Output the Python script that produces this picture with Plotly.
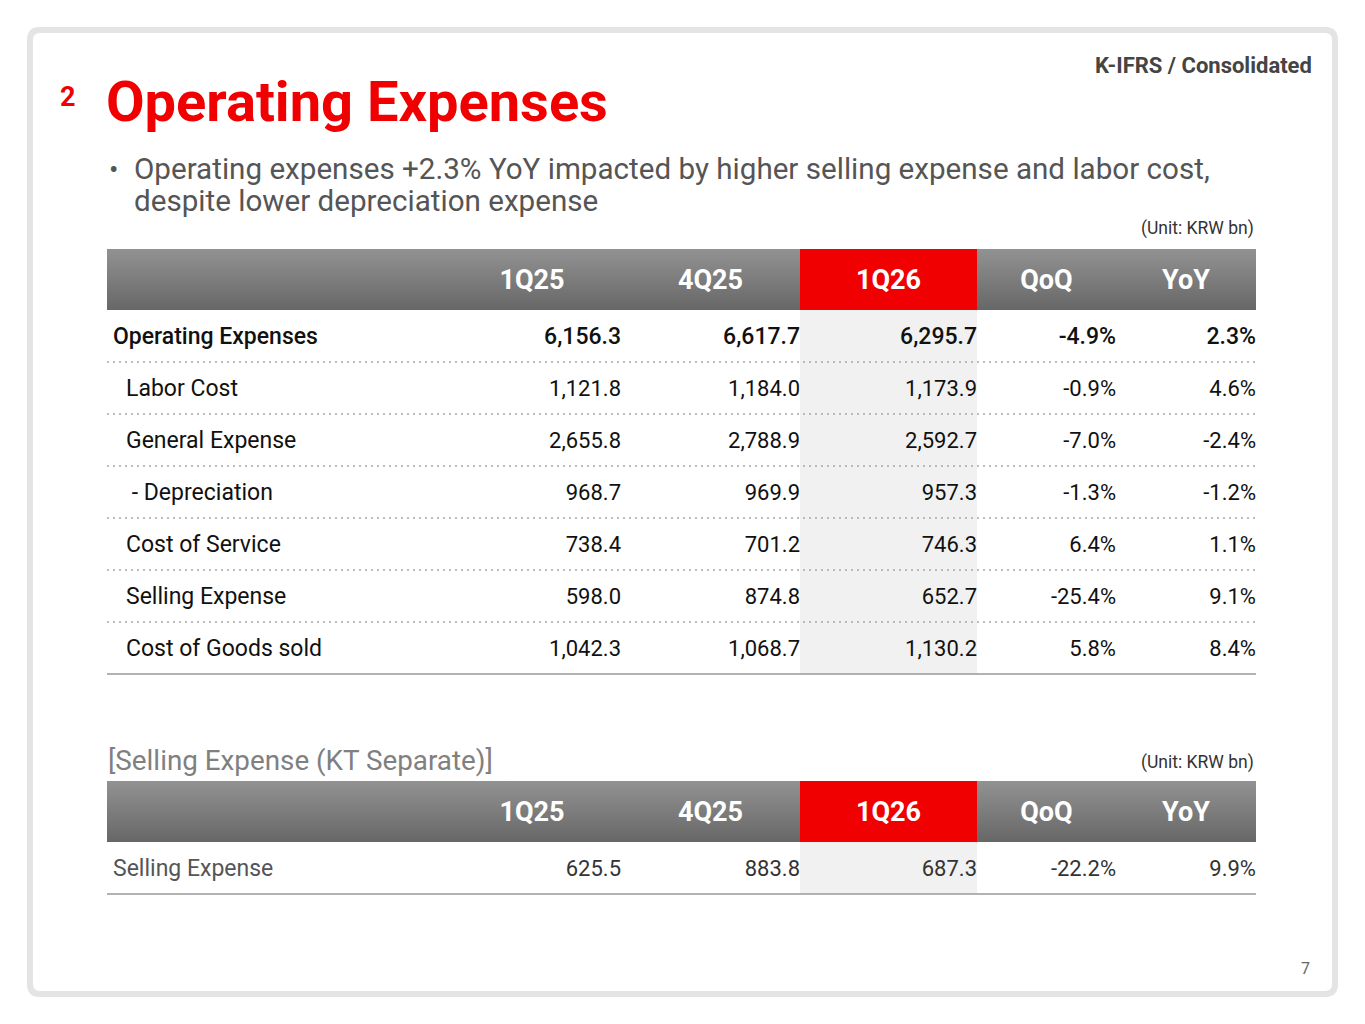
import plotly.graph_objects as go

# ---- data (KRW bn) ----
periods = ["1Q25", "4Q25", "1Q26", "QoQ", "YoY"]
items = ["Operating Expenses", "Labor Cost", "General Expense", "\u00a0- Depreciation",
         "Cost of Service", "Selling Expense", "Cost of Goods sold"]
val_1q25 = [6156.3, 1121.8, 2655.8, 968.7, 738.4, 598.0, 1042.3]
val_4q25 = [6617.7, 1184.0, 2788.9, 969.9, 701.2, 874.8, 1068.7]
val_1q26 = [6295.7, 1173.9, 2592.7, 957.3, 746.3, 652.7, 1130.2]
qoq_pct = [-4.9, -0.9, -7.0, -1.3, 6.4, -25.4, 5.8]
yoy_pct = [2.3, 4.6, -2.4, -1.2, 1.1, 9.1, 8.4]

sep_items = ["Selling Expense"]
sep_1q25 = [625.5]
sep_4q25 = [883.8]
sep_1q26 = [687.3]
sep_qoq = [-22.2]
sep_yoy = [9.9]

# ---- layout constants (pixel space) ----
W, H = 1365, 1024
OFF = 8          # page body margin, so axis units line up with screen pixels
FONT = "Roboto"
RED = "#f00000"
col_edges = [443, 621, 800, 977, 1116, 1256]   # column boundaries
tbl_left = 107
row_h = 52
TXT_DY = 2       # nudge so text sits optically centred in its row

fig = go.Figure()
shapes = []


def fmt_num(v):
    return f"{v:,.1f}"


def fmt_pct(v):
    return f"{v:.1f}%"


def box(x0, x1, y0, y1, **kw):
    fig.add_trace(go.Scatter(x=[x0, x1, x1, x0, x0], y=[y0, y0, y1, y1, y0],
                             mode="lines", line=dict(width=0), fill="toself",
                             hoverinfo="skip", showlegend=False, **kw))


def draw_table(top, labels, cols, label_color, val_color, bold_first):
    hdr_bot = top + 61
    n = len(labels)
    row_y = [hdr_bot + row_h / 2 + i * row_h + TXT_DY for i in range(n)]
    bottom = hdr_bot + n * row_h

    # header band with vertical gradient, then the highlighted current quarter
    box(tbl_left, col_edges[-1], top, hdr_bot,
        fillgradient=dict(type="vertical", colorscale=[[0, "#676767"], [1, "#929292"]]))
    box(col_edges[2], col_edges[3], top, hdr_bot, fillcolor=RED)
    shapes.append(dict(type="rect", xref="x", yref="y", x0=col_edges[2], x1=col_edges[3],
                       y0=hdr_bot, y1=bottom, fillcolor="#f1f1f1", line_width=0, layer="below"))

    centers = [(col_edges[j] + col_edges[j + 1]) / 2 for j in range(len(periods))]
    fig.add_trace(go.Scatter(
        x=centers, y=[(top + hdr_bot) / 2 + TXT_DY + 1] * len(periods), text=periods,
        mode="text", textposition="middle center",
        textfont=dict(family=FONT, size=27, color="white", weight="bold"),
        hoverinfo="skip", showlegend=False))

    # separators
    for i in range(1, n):
        yy = hdr_bot + i * row_h
        shapes.append(dict(type="line", xref="x", yref="y", x0=tbl_left, x1=col_edges[-1],
                           y0=yy, y1=yy, line=dict(color="#a8a8a8", width=1.5, dash="2px,4px")))
    shapes.append(dict(type="line", xref="x", yref="y", x0=tbl_left, x1=col_edges[-1],
                       y0=bottom, y1=bottom, line=dict(color="#999999", width=1.5)))

    # row labels and values
    lab_x = [113 if (i == 0 or not bold_first) else 126 for i in range(n)]
    groups = [[0], list(range(1, n))] if bold_first else [list(range(n))]
    for group in groups:
        if not group:
            continue
        heavy = bold_first and group == [0]
        fig.add_trace(go.Scatter(
            x=[lab_x[i] for i in group], y=[row_y[i] for i in group],
            text=[labels[i] for i in group], mode="text", textposition="middle right",
            textfont=dict(family=FONT, size=23, color=label_color,
                          weight=500 if heavy else "normal"),
            hoverinfo="skip", showlegend=False))
        for j, (vals, f) in enumerate(cols):
            fig.add_trace(go.Scatter(
                x=[col_edges[j + 1]] * len(group), y=[row_y[i] for i in group],
                text=[f(vals[i]) for i in group], mode="text", textposition="middle left",
                textfont=dict(family=FONT, size=23 if heavy else 22, color=val_color,
                              weight=500 if heavy else "normal"),
                hoverinfo="skip", showlegend=False))


draw_table(249, items,
           [(val_1q25, fmt_num), (val_4q25, fmt_num), (val_1q26, fmt_num),
            (qoq_pct, fmt_pct), (yoy_pct, fmt_pct)],
           "#111111", "#111111", True)
draw_table(781, sep_items,
           [(sep_1q25, fmt_num), (sep_4q25, fmt_num), (sep_1q26, fmt_num),
            (sep_qoq, fmt_pct), (sep_yoy, fmt_pct)],
           "#555555", "#333333", False)

# slide frame
shapes.append(dict(type="path", xref="x", yref="y",
                   path="M 40,30 H 1325 Q 1335,30 1335,40 V 984 Q 1335,994 1325,994 "
                        "H 40 Q 30,994 30,984 V 40 Q 30,30 40,30 Z",
                   line=dict(color="#e4e4e4", width=6), fillcolor="rgba(0,0,0,0)"))

ann = []


def txt(x, y, s, size, color, xanchor="left", weight="normal"):
    ann.append(dict(x=x, y=y, xref="x", yref="y", text=s, showarrow=False,
                    xanchor=xanchor, yanchor="middle",
                    font=dict(family=FONT, size=size, color=color, weight=weight)))


txt(58, 97, "2", 27, RED, weight="bold")
txt(104, 102, "Operating Expenses", 56, RED, weight="bold")
txt(1314, 65, "K-IFRS / Consolidated", 22, "#444444", xanchor="right", weight="bold")
txt(107, 169, "\u2022", 28, "#555555")
txt(132, 169, "Operating expenses +2.3% YoY impacted by higher selling expense and labor cost,",
    29.6, "#555555")
txt(132, 201, "despite lower depreciation expense", 29.6, "#555555")
txt(1256, 228, "(Unit: KRW bn)", 17.5, "#333333", xanchor="right")
txt(106, 760, "[Selling Expense (KT Separate)]", 27.8, "#808080")
txt(1256, 762, "(Unit: KRW bn)", 17.5, "#333333", xanchor="right")
txt(1312, 968, "7", 16, "#666666", xanchor="right")

fig.update_layout(
    width=W, height=H, margin=dict(l=0, r=0, t=0, b=0),
    paper_bgcolor="white", plot_bgcolor="white",
    xaxis=dict(range=[OFF, W + OFF], visible=False, fixedrange=True),
    yaxis=dict(range=[H + OFF, OFF], visible=False, fixedrange=True),
    shapes=shapes, annotations=ann, showlegend=False,
)

fig.write_html("out.html")
